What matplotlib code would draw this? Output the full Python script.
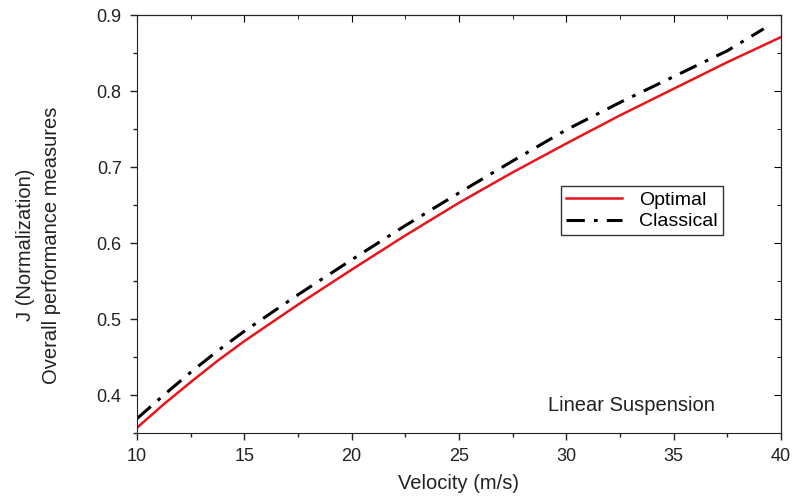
import matplotlib
matplotlib.use('Agg')
import matplotlib.pyplot as plt
from matplotlib.ticker import MultipleLocator

plt.rcParams['font.family'] = ['Liberation Sans', 'DejaVu Sans']

# --- values ---
velocity_opt = [10, 11.25, 12.5, 13.75, 15, 17.5, 20, 22.5, 25, 27.5, 30, 32.5, 35, 37.5, 40]
j_optimal = [0.357, 0.388, 0.417, 0.445, 0.471, 0.519, 0.565, 0.610, 0.653, 0.693, 0.731, 0.768, 0.803, 0.838, 0.871]

velocity_cls = [10, 11.25, 12.5, 13.75, 15, 17.5, 20, 22.5, 25, 27.5, 30, 32.5, 35, 37.5, 39.2]
j_classical = [0.369, 0.400, 0.430, 0.458, 0.484, 0.532, 0.578, 0.623, 0.666, 0.708, 0.749, 0.785, 0.819, 0.853, 0.882]

fig = plt.figure(figsize=(7.94, 5.03), dpi=100)
ax = fig.add_axes([0.1725, 0.139, 0.811, 0.831])

ax.plot(velocity_opt, j_optimal, color='#e8151b', lw=1.8, label='Optimal')
ax.plot(velocity_cls, j_classical, color='black', lw=2.2,
        linestyle=(0, (6, 3, 1.2, 3)), label='Classical')

ax.set_xlim(10, 40)
ax.set_ylim(0.35, 0.9)
ax.xaxis.set_major_locator(MultipleLocator(5))
ax.xaxis.set_minor_locator(MultipleLocator(2.5))
ax.yaxis.set_major_locator(MultipleLocator(0.1))
ax.yaxis.set_minor_locator(MultipleLocator(0.05))
ax.tick_params(which='both', direction='out', top=False, right=False,
               labelsize=13, colors='#222222', width=1)
ax.tick_params(which='major', length=5, pad=6)
ax.tick_params(which='minor', length=3)

# inward ticks on the top and right spines
ax2 = ax.secondary_xaxis('top')
ax2.xaxis.set_major_locator(MultipleLocator(5))
ax2.xaxis.set_minor_locator(MultipleLocator(2.5))
ax2.tick_params(which='both', direction='in', labeltop=False)
ax2.tick_params(which='major', length=5)
ax2.tick_params(which='minor', length=3)
ay2 = ax.secondary_yaxis('right')
ay2.yaxis.set_major_locator(MultipleLocator(0.1))
ay2.yaxis.set_minor_locator(MultipleLocator(0.05))
ay2.tick_params(which='both', direction='in', labelright=False)
ay2.tick_params(which='major', length=5)
ay2.tick_params(which='minor', length=3)

for s in ax.spines.values():
    s.set_color('#222222')

ax.set_xlabel('Velocity (m/s)', fontsize=14.5, color='#222222', labelpad=6)
ax.set_ylabel('J (Normalization)\nOverall performance measures', fontsize=14.5,
              color='#222222', linespacing=1.45)
ax.yaxis.set_label_coords(-0.118, 0.45)

leg = ax.legend(loc='upper left', bbox_to_anchor=(0.658, 0.59), fontsize=14,
                frameon=True, fancybox=False, edgecolor='black',
                handlelength=2.9, borderpad=0.25, labelspacing=0.2,
                handletextpad=0.9, borderaxespad=0)
leg.get_frame().set_linewidth(1)

ax.text(0.638, 0.065, 'Linear Suspension', transform=ax.transAxes,
        fontsize=14.5, va='center', ha='left', color='#222222')

fig.savefig('out.png', dpi=100)
